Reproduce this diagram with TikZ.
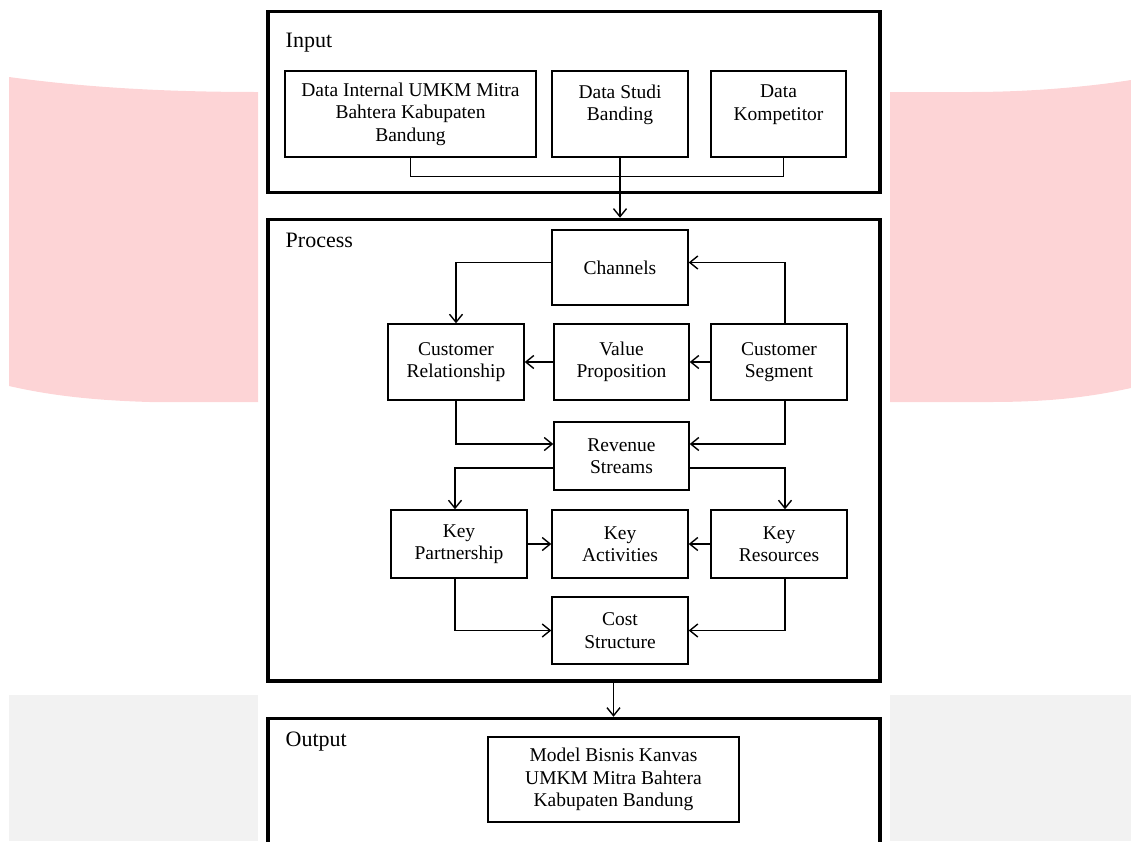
\documentclass[tikz,border=0pt]{standalone}
\usepackage{fontspec}
\setmainfont{Liberation Serif}
\usetikzlibrary{arrows.meta}

\definecolor{bandpink}{RGB}{253,212,214}
\definecolor{bandgrey}{RGB}{242,242,242}

\tikzset{
	frame/.style={draw, line width=3.5pt, minimum width=612pt, inner sep=0pt},
	box/.style={draw, line width=1.4pt, align=center, inner sep=0pt,
		minimum width=135pt, minimum height=68pt,
		font=\fontsize{19.5}{22.5}\selectfont},
	head/.style={anchor=base west, inner sep=0pt,
		font=\fontsize{22}{24}\selectfont},
}

\begin{document}
\begin{tikzpicture}[x=1pt, y=-1pt, line width=1.4pt,
		>={Straight Barb[length=8pt, width=13pt]}]
	\useasboundingbox (0,0) rectangle (1131,841);

	\fill [bandpink] (9,77) .. controls (90,88) and (170,92) .. (258,92)
		-- (258,402) -- (150,402) .. controls (80,400) and (40,393) .. (9,386) -- cycle;
	\fill [bandpink] (890,92) -- (970,92) .. controls (1040,92) and (1100,85) .. (1131,80)
		-- (1131,388) .. controls (1090,397) and (1050,402) .. (990,402) -- (890,402) -- cycle;
	\fill [bandgrey] (9,695) rectangle (258,841);
	\fill [bandgrey] (890,695) rectangle (1131,841);

	\node [frame, minimum height=181pt] (input) at (574,102) {};
	\node [frame, minimum height=461.5pt] (process) at (574,450.25) {};
	\node [frame, minimum height=200pt] (output) at (574,818.5) {};

	\node [head] (inlabel) at (285,47) {Input};
	\node [head] (proclabel) at (285,247) {Process};
	\node [head] (outlabel) at (285,746) {Output};

	\node [box, minimum width=251pt, minimum height=86pt] (internal) at (410.5,114)
		{Data Internal UMKM Mitra\\Bahtera Kabupaten\\Bandung};
	\node [box, minimum width=136pt, minimum height=86pt] (studi) at (620,114)
		{Data Studi\\Banding\\\mbox{}};
	\node [box, minimum height=86pt] (kompetitor) at (778.5,114)
		{Data\\Kompetitor\\\mbox{}};

	\node [box, minimum width=136pt, minimum height=75pt] (channels) at (620,267.5) {Channels};
	\node [box, minimum width=136pt, minimum height=76pt] (custrel) at (456,362) {Customer\\Relationship};
	\node [box, minimum height=76pt] (valprop) at (621.5,362) {Value\\Proposition};
	\node [box, minimum width=136pt, minimum height=76pt] (custseg) at (779,362) {Customer\\Segment};
	\node [box] (revenue) at (621.5,456) {Revenue\\Streams};
	\node [box, minimum width=136pt] (keypart) at (459,544) {Key\\Partnership};
	\node [box, minimum width=136pt] (keyact) at (620,544) {Key\\Activities};
	\node [box, minimum width=136pt] (keyres) at (779,544) {Key\\Resources};
	\node [box, minimum width=136pt, minimum height=67pt] (cost) at (620,630.5) {Cost\\Structure};

	\node [box, minimum width=251pt, minimum height=85pt] (model) at (613.5,779.5)
		{Model Bisnis Kanvas\\UMKM Mitra Bahtera\\Kabupaten Bandung};

	\draw (internal.south) -- ++(0,19) -| ([xshift=5]kompetitor.south);
	\draw [->] (studi.south) -- (studi.south |- process.north);
	\draw [->] (model.north |- process.south) -- (model.north |- output.north);

	\draw [->] ([yshift=5]channels.west) -| (custrel.north);
	\draw [->] ([xshift=6]custseg.north) |- ([yshift=5]channels.east);
	\draw [->] (valprop.west) -- (custrel.east);
	\draw [->] (custseg.west) -- (valprop.east);
	\draw [->] (custrel.south) |- ([yshift=12]revenue.west);
	\draw [->] ([xshift=6]custseg.south) |- ([yshift=12]revenue.east);
	\draw [->] ([yshift=-12]revenue.west) -| ([xshift=-4]keypart.north);
	\draw [->] ([yshift=-12]revenue.east) -| ([xshift=6]keyres.north);
	\draw [->] (keypart.east) -- (keyact.west);
	\draw [->] (keyres.west) -- (keyact.east);
	\draw [->] ([xshift=-4]keypart.south) |- (cost.west);
	\draw [->] ([xshift=6]keyres.south) |- (cost.east);
\end{tikzpicture}
\end{document}
